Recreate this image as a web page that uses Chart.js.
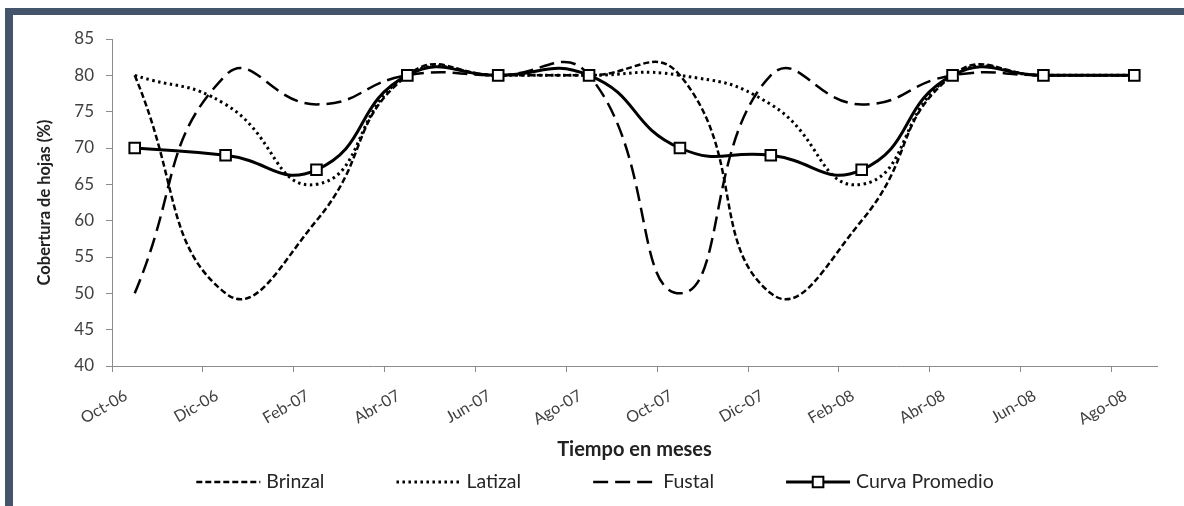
<!DOCTYPE html>
<html>
<head>
<meta charset="utf-8">
<script src="https://cdn.jsdelivr.net/npm/chart.js@4.4.0/dist/chart.umd.min.js"></script>
<style>
  html, body { margin: 0; padding: 0; background: #fff; }
  #marco { position: relative; width: 1184px; height: 506px; }
  #grafico { position: absolute; left: 0; top: 0; }
  #bordeSup { position: absolute; left: 5px; top: 8px; width: 1179px; height: 7px; background: #44546a; }
  #bordeIzq { position: absolute; left: 5px; top: 8px; width: 8px; height: 498px; background: #44546a; }
</style>
</head>
<body>
<div id="marco">
  <canvas id="grafico" width="1184" height="506"></canvas>
  <div id="bordeSup"></div>
  <div id="bordeIzq"></div>
</div>
<script>
// Meses (eje de fechas, unidad base = mes desde Oct-06)
const categorias = ["Oct-06", "Dic-06", "Feb-07", "Abr-07", "Jun-07", "Ago-07",
                    "Oct-07", "Dic-07", "Feb-08", "Abr-08", "Jun-08", "Ago-08"];
const mesesDesdeInicio = [0, 2, 4, 6, 8, 10, 12, 14, 16, 18, 20, 22];

const brinzal  = [80, 50, 60, 80, 80, 80, 80, 50, 60, 80, 80, 80];
const latizal  = [80, 76, 65, 80, 80, 80, 80, 76, 65, 80, 80, 80];
const fustal   = [50, 80, 76, 80, 80, 80, 50, 80, 76, 80, 80, 80];
const promedio = [70, 69, 67, 80, 80, 80, 70, 69, 67, 80, 80, 80];

const ticksY = [40, 45, 50, 55, 60, 65, 70, 75, 80, 85];

const fuente = "Lato, 'Open Sans', sans-serif";
const gris = "#8c8c8c";

function puntos(valores) {
  return valores.map((v, i) => ({ x: mesesDesdeInicio[i], y: v }));
}

// Leyenda dibujada con el estilo de cada serie (linea + marcador)
const leyendaLineas = {
  id: "leyendaLineas",
  afterDraw(chart, args, opts) {
    const ctx = chart.ctx;
    ctx.save();
    ctx.font = opts.fontSize + "px " + fuente;
    ctx.textBaseline = "middle";
    const items = chart.data.datasets.map(ds => ({ ds: ds, w: ctx.measureText(ds.label).width }));
    let total = 0;
    items.forEach(it => { total += opts.sampleWidth + opts.textGap + it.w; });
    total += opts.itemGap * (items.length - 1);
    let x = opts.centerX - total / 2;
    const y = opts.y;
    items.forEach(it => {
      const ds = it.ds;
      ctx.strokeStyle = ds.borderColor;
      ctx.lineWidth = ds.borderWidth;
      ctx.setLineDash(ds.borderDash || []);
      ctx.beginPath();
      ctx.moveTo(x, y);
      ctx.lineTo(x + opts.sampleWidth, y);
      ctx.stroke();
      ctx.setLineDash([]);
      if (ds.pointRadius > 0) {
        ctx.fillStyle = ds.pointBackgroundColor;
        ctx.strokeStyle = ds.pointBorderColor;
        ctx.lineWidth = ds.pointBorderWidth;
        Chart.helpers.drawPoint(ctx, { pointStyle: ds.pointStyle, radius: ds.pointRadius, borderWidth: ds.pointBorderWidth }, x + opts.sampleWidth / 2, y);
      }
      ctx.fillStyle = opts.color;
      ctx.fillText(ds.label, x + opts.sampleWidth + opts.textGap, y);
      x += opts.sampleWidth + opts.textGap + it.w + opts.itemGap;
    });
    ctx.restore();
  }
};

const ctx = document.getElementById("grafico").getContext("2d");

new Chart(ctx, {
  type: "line",
  data: {
    datasets: [
      {
        label: "Brinzal",
        data: puntos(brinzal),
        borderColor: "#000",
        borderWidth: 2.5,
        borderDash: [6, 3],
        pointRadius: 0,
        tension: 0.5,
        order: 1
      },
      {
        label: "Latizal",
        data: puntos(latizal),
        borderColor: "#000",
        borderWidth: 3,
        borderDash: [2.5, 3.5],
        pointRadius: 0,
        tension: 0.5,
        order: 1
      },
      {
        label: "Fustal",
        data: puntos(fustal),
        borderColor: "#000",
        borderWidth: 2.5,
        borderDash: [15, 7],
        pointRadius: 0,
        tension: 0.5,
        order: 1
      },
      {
        label: "Curva Promedio",
        data: puntos(promedio),
        borderColor: "#000",
        borderWidth: 3,
        pointStyle: "rect",
        pointRadius: 7.5,
        pointBorderWidth: 2,
        pointBackgroundColor: "#fff",
        pointBorderColor: "#000",
        tension: 0.5,
        order: 0
      }
    ]
  },
  options: {
    responsive: false,
    animation: false,
    layout: { padding: { top: 39, left: 25, right: 27, bottom: 44 } },
    plugins: {
      legend: { display: false },
      tooltip: { enabled: false },
      leyendaLineas: {
        fontSize: 19.5,
        color: "#262626",
        sampleWidth: 64,
        textGap: 6,
        itemGap: 72,
        centerX: 595,
        y: 482
      }
    },
    scales: {
      x: {
        type: "linear",
        min: -0.5,
        max: 22.5,
        afterFit: (scale) => { scale.height = 96; },
        afterBuildTicks: (scale) => {
          scale.ticks = mesesDesdeInicio.map(m => ({ value: m - 0.5 }));
        },
        ticks: {
          autoSkip: false,
          minRotation: 30,
          maxRotation: 30,
          labelOffset: 14,
          padding: 14,
          color: "#404040",
          font: { family: fuente, size: 16 },
          callback: (value, index) => categorias[index]
        },
        grid: { drawOnChartArea: false, drawTicks: true, tickLength: 6, color: gris },
        border: { display: true, color: gris, width: 1 },
        title: {
          display: true,
          text: "Tiempo en meses",
          color: "#222",
          font: { family: fuente, size: 20, weight: "bold" },
          padding: { top: 0, bottom: 0 }
        }
      },
      y: {
        min: 40,
        max: 85,
        afterFit: (scale) => { scale.width = 87; },
        afterBuildTicks: (scale) => {
          scale.ticks = ticksY.map(v => ({ value: v }));
        },
        ticks: {
          padding: 12,
          color: "#404040",
          font: { family: fuente, size: 17 }
        },
        grid: { drawOnChartArea: false, drawTicks: true, tickLength: 6, color: gris },
        border: { display: true, color: gris, width: 1 },
        title: {
          display: true,
          text: "Cobertura de hojas (%)",
          color: "#222",
          font: { family: fuente, size: 16.5, weight: "bold" },
          padding: { top: 10, bottom: 0 }
        }
      }
    }
  },
  plugins: [leyendaLineas]
});
</script>
</body>
</html>
